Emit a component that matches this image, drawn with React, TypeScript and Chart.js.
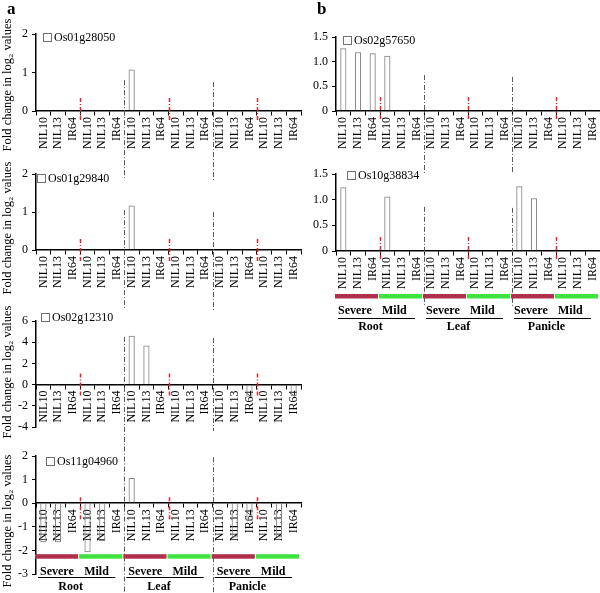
import React, { useEffect, useRef } from 'react';
import { Chart, registerables } from 'chart.js';

Chart.register(...registerables);

const categories = [
  'NIL10', 'NIL13', 'IR64', 'NIL10', 'NIL13', 'IR64',
  'NIL10', 'NIL13', 'IR64', 'NIL10', 'NIL13', 'IR64',
  'NIL10', 'NIL13', 'IR64', 'NIL10', 'NIL13', 'IR64',
];
const tissues = ['Root', 'Leaf', 'Panicle'];
const conditions = ['Severe', 'Mild'];

const os01g28050 = [null, null, null, null, null, null, 1.08, null, null, null, null, null, null, null, null, null, null, null];
const os01g29840 = [null, null, null, null, null, null, 1.17, null, null, null, null, null, null, null, null, null, null, null];
const os02g12310 = [null, null, null, null, null, null, 4.6, 3.68, null, null, null, null, null, null, -1.15, null, null, -1.1];
const os11g04960 = [-1.65, -1.65, null, -2.08, -1.6, null, 1.07, null, null, null, null, null, null, -1.45, -0.75, null, -1.45, null];
const os02g57650 = [1.27, 1.19, 1.17, 1.12, null, null, null, null, null, null, null, null, null, null, null, null, null, null];
const os10g38834 = [1.24, null, null, 1.06, null, null, null, null, null, null, null, null, 1.26, 1.03, null, null, null, null];

const yTitleText = 'Fold change in log\u2082 values';

const RED = '#b02f4d';
const GREEN = '#3fe33f';
const FONT = "'Liberation Serif', 'Times New Roman', serif";

type Groups = { bar: number; cond: number; line: number; tissue: number; condDx: number };
type Spec = {
  id: string; name: string; data: (number | null)[];
  left: number; top: number; width: number; height: number;
  padTop: number; padBottom: number; padRight: number;
  min: number; max: number; step: number;
  legend: [number, number];
  titleY: number | null;
  sepStart: [number, number];
  sepEnd: [number, number];
  red: [number, number];
  groups: Groups | null;
};

const specs: Spec[] = [
  { id: 'a1', name: 'Os01g28050', data: os01g28050, left: 0, top: 10, width: 302, height: 170, padTop: 24, padBottom: 69, padRight: 1,
    min: 0, max: 2, step: 1, legend: [43, 33], titleY: 85, sepStart: [0.8, 0.75], sepEnd: [178, 180], red: [13, 11], groups: null },
  { id: 'a2', name: 'Os01g29840', data: os01g29840, left: 0, top: 158, width: 302, height: 154, padTop: 16, padBottom: 62, padRight: 1,
    min: 0, max: 2, step: 1, legend: [37, 174], titleY: 228, sepStart: [1.05, 1.0], sepEnd: [310, 310], red: [11, 13], groups: null },
  { id: 'a3', name: 'Os02g12310', data: os02g12310, left: 0, top: 303, width: 302, height: 147, padTop: 18, padBottom: 23, padRight: 1,
    min: -4, max: 6, step: 2, legend: [41, 313], titleY: 372, sepStart: [4.5, 4.4], sepEnd: [450, 431], red: [11, 12], groups: null },
  { id: 'a4', name: 'Os11g04960', data: os11g04960, left: 0, top: 446, width: 302, height: 147, padTop: 10, padBottom: 19, padRight: 1,
    min: -3, max: 2, step: 1, legend: [46, 457], titleY: 521, sepStart: [2.4, 1.95], sepEnd: [593, 593], red: [6, 18],
    groups: { bar: 53, cond: 72, line: 74, tissue: 87, condDx: 4 } },
  { id: 'b1', name: 'Os02g57650', data: os02g57650, left: 300, top: 25, width: 300, height: 150, padTop: 12, padBottom: 64, padRight: 0,
    min: 0, max: 1.5, step: 0.5, legend: [343, 36], titleY: null, sepStart: [0.73, 0.69], sepEnd: [173, 173], red: [14, 9], groups: null },
  { id: 'b2', name: 'Os10g38834', data: os10g38834, left: 300, top: 164, width: 300, height: 171, padTop: 10, padBottom: 84, padRight: 0,
    min: 0, max: 1.5, step: 0.5, legend: [347, 171], titleY: null, sepStart: [0.86, 0.84], sepEnd: [305, 307], red: [14, 10],
    groups: { bar: 45, cond: 63, line: 67, tissue: 79, condDx: 2 } },
];

function makeOverlay(s: Spec) {
  return {
    id: 'overlay_' + s.id,
    afterDraw(chart: any) {
      const ctx: CanvasRenderingContext2D = chart.ctx;
      const ys = chart.scales.y;
      const n = categories.length;
      const L = chart.chartArea.left;
      const R = chart.chartArea.right;
      const bx = (i: number) => L + ((R - L) * i) / n;
      const zeroY = ys.getPixelForValue(0);
      ctx.save();

      // tissue separators (grey dash-dot)
      ctx.strokeStyle = '#5a5a5a';
      ctx.lineWidth = 1;
      ctx.setLineDash([5, 2, 1, 2]);
      [6, 12].forEach((b, k) => {
        const x = Math.round(bx(b)) + 0.5;
        ctx.beginPath();
        ctx.moveTo(x, ys.getPixelForValue(s.sepStart[k]));
        ctx.lineTo(x, s.sepEnd[k] - s.top);
        ctx.stroke();
      });

      // condition separators (red dash-dot)
      ctx.strokeStyle = '#e3242b';
      ctx.lineWidth = 1.5;
      ctx.setLineDash([4, 2, 1, 2]);
      [3, 9, 15].forEach((b) => {
        const x = Math.round(bx(b)) + 0.5;
        ctx.beginPath();
        ctx.moveTo(x, zeroY - s.red[0]);
        ctx.lineTo(x, zeroY + s.red[1]);
        ctx.stroke();
      });
      ctx.setLineDash([]);

      // legend
      const lx = s.legend[0] - s.left;
      const ly = s.legend[1] - s.top;
      ctx.strokeStyle = '#707070';
      ctx.lineWidth = 1;
      ctx.strokeRect(lx + 0.5, ly + 0.5, 8, 8);
      ctx.fillStyle = '#000';
      ctx.font = `12px ${FONT}`;
      ctx.textAlign = 'left';
      ctx.textBaseline = 'middle';
      ctx.fillText(s.name, lx + 11, ly + 5);

      // y title
      if (s.titleY !== null) {
        ctx.save();
        ctx.translate(8 - s.left, s.titleY - s.top);
        ctx.rotate(-Math.PI / 2);
        ctx.textAlign = 'center';
        ctx.textBaseline = 'middle';
        ctx.font = `12.5px ${FONT}`;
        ctx.fillText(yTitleText, 0, 0);
        ctx.restore();
      }

      // group annotations
      const g = s.groups;
      if (g) {
        for (let k = 0; k < 6; k++) {
          const a = bx(3 * k);
          const b = bx(3 * k + 3);
          ctx.fillStyle = k % 2 === 0 ? RED : GREEN;
          ctx.fillRect(a - 1, zeroY + g.bar - 2, b - a - 1, 4.5);
          ctx.fillStyle = '#000';
          ctx.font = `bold 12px ${FONT}`;
          ctx.textAlign = 'left';
          ctx.textBaseline = 'alphabetic';
          ctx.fillText(conditions[k % 2], a + g.condDx, zeroY + g.cond);
        }
        for (let t = 0; t < 3; t++) {
          const a = bx(6 * t) + 2;
          const b = bx(6 * t + 6) - 9;
          ctx.strokeStyle = '#000';
          ctx.lineWidth = 1;
          ctx.beginPath();
          ctx.moveTo(a, Math.round(zeroY + g.line) + 0.5);
          ctx.lineTo(b, Math.round(zeroY + g.line) + 0.5);
          ctx.stroke();
          ctx.fillStyle = '#000';
          ctx.font = `bold 12px ${FONT}`;
          ctx.textAlign = 'center';
          ctx.textBaseline = 'alphabetic';
          ctx.fillText(tissues[t], (a + b) / 2 - 6, zeroY + g.tissue);
        }
      }
      ctx.restore();
    },
  };
}

function GeneChart({ spec }: { spec: Spec }) {
  const ref = useRef<HTMLCanvasElement>(null);
  useEffect(() => {
    const canvas = ref.current;
    if (!canvas) return;
    const chart = new Chart(canvas, {
      type: 'bar',
      data: {
        labels: categories,
        datasets: [
          {
            label: spec.name,
            data: spec.data as any,
            backgroundColor: 'rgba(255,255,255,0)',
            borderColor: '#808080',
            borderWidth: 1,
            barPercentage: 0.42,
            categoryPercentage: 1,
          },
        ],
      },
      options: {
        responsive: false,
        animation: false,
        events: [],
        layout: { padding: { top: spec.padTop, bottom: spec.padBottom, right: spec.padRight, left: 0 } },
        plugins: { legend: { display: false }, tooltip: { enabled: false }, title: { display: false } },
        scales: {
          x: {
            position: { y: 0 } as any,
            offset: true,
            afterFit: (s: any) => { s.paddingLeft = 0; s.paddingRight = 0; },
            grid: { display: true, drawOnChartArea: false, drawTicks: true, tickLength: 4, color: '#000', offset: true },
            border: { display: true, color: '#000', width: 1.5 },
            ticks: {
              autoSkip: false, maxRotation: 90, minRotation: 90, padding: 2, color: '#000',
              font: { family: FONT, size: 12 },
            },
          },
          y: {
            min: spec.min,
            max: spec.max,
            afterFit: (s: any) => { s.width = 36; s.paddingTop = 0; s.paddingBottom = 0; },
            grid: { display: true, drawOnChartArea: false, drawTicks: true, tickLength: 4, color: '#000' },
            border: { display: true, color: '#000', width: 1.5 },
            ticks: { stepSize: spec.step, padding: 4, color: '#000', font: { family: FONT, size: 12 } },
          },
        },
      },
      plugins: [makeOverlay(spec)],
    });
    return () => chart.destroy();
  }, [spec]);
  return (
    <canvas
      ref={ref}
      width={spec.width}
      height={spec.height}
      style={{ position: 'absolute', left: spec.left, top: spec.top, width: spec.width, height: spec.height }}
    />
  );
}

export default function App() {
  const panelLabel: React.CSSProperties = {
    position: 'absolute', fontFamily: FONT, fontWeight: 'bold', fontSize: 17, lineHeight: '17px', color: '#000',
  };
  return (
    <div style={{ position: 'absolute', left: 0, top: 0, width: 600, height: 593, background: '#fff', overflow: 'hidden' }}>
      {specs.map((s) => (
        <GeneChart key={s.id} spec={s} />
      ))}
      <div style={{ ...panelLabel, left: 7, top: 0 }}>a</div>
      <div style={{ ...panelLabel, left: 317, top: 0 }}>b</div>
    </div>
  );
}
